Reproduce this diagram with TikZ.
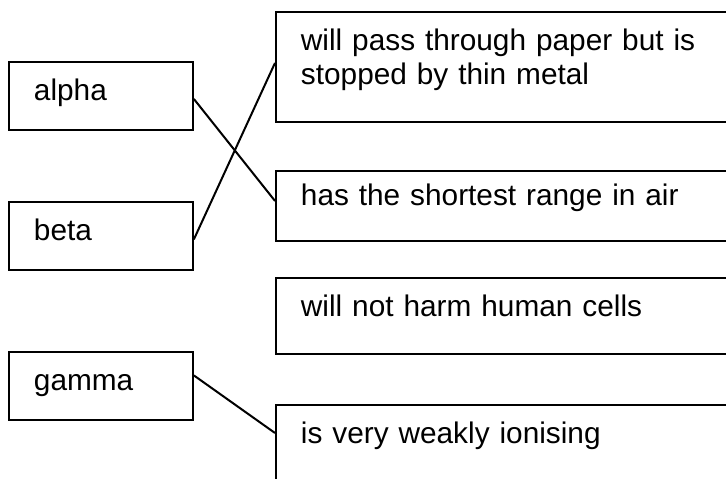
\documentclass[tikz,border=0pt]{standalone}
\usepackage{fontspec}
\setmainfont{Liberation Sans}

\tikzset{
	choice/.style = {draw, line width = 1.4pt, anchor = north west,
		inner xsep = 18.75pt, inner ysep = 0pt, align = left,
		text height = 29.25pt,
		font = \fontsize{22.35pt}{25.5pt}\selectfont},
	particle/.style = {choice, text width = 100.5pt, text depth = 21.75pt},
	property/.style = {choice, text width = 315pt},
	link/.style = {line width = 1.5pt}
}

\begin{document}
\begin{tikzpicture} [x = 0.75pt, y = -0.75pt]
\clip (0,0) rectangle (726,479);

% particles:
\node [particle] (alpha) at (8,61) {alpha};
\node [particle] (beta) at (8,201) {beta};
\node [particle] (gamma) at (8,351) {gamma};

% properties:
\node [property, text depth = 53.25pt] (paper) at (275,11)
	{will pass through paper but is\\stopped by thin metal};
\node [property, text height = 26.25pt, text depth = 26.25pt] (shortest)
	at (275,170) {has the shortest range in air};
\node [property, text depth = 27.75pt] (harm) at (275,277)
	{will not harm human cells};
\node [property, text depth = 80pt] (weak) at (275,404)
	{is very weakly ionising};

% matching lines:
\draw [link] ([yshift=-2.25pt]alpha.east) -- ([yshift=3.75pt]shortest.west);
\draw [link] ([yshift=-2.6pt]beta.east) -- ([yshift=3pt]paper.west);
\draw [link] ([yshift=7.9pt]gamma.east) -- ([yshift=-21.75pt]weak.north west);
\end{tikzpicture}
\end{document}
